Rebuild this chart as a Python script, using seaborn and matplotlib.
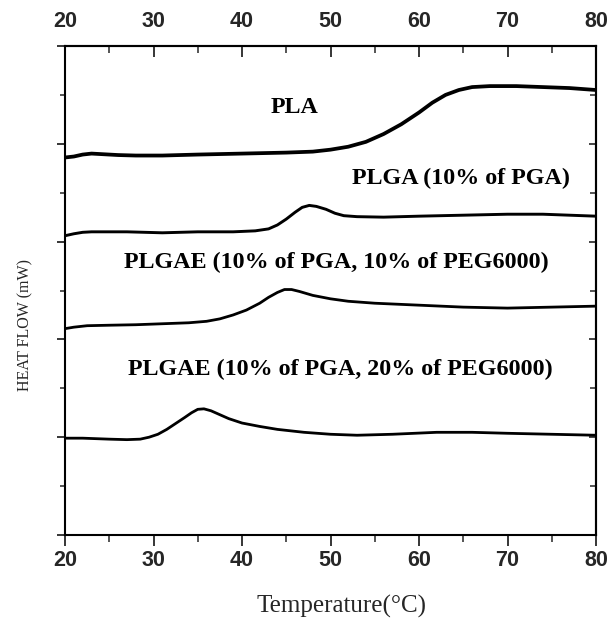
import matplotlib
matplotlib.use("Agg")
import matplotlib.pyplot as plt
from matplotlib import font_manager
from matplotlib.ticker import MultipleLocator
import numpy as np
import pandas as pd
import seaborn as sns

# ---- data ----
pla_x = [20, 21, 22, 23, 24, 26, 28, 31, 35, 40, 45, 48, 50, 52, 54, 56, 58, 60, 61.5, 63, 64.5, 66, 68,
         71, 74, 77, 80]
pla_y = [3.86, 3.87, 3.89, 3.90, 3.895, 3.885, 3.88, 3.88, 3.89, 3.90, 3.91, 3.92, 3.94, 3.97, 4.02, 4.10,
         4.20, 4.32, 4.42, 4.50, 4.55, 4.58, 4.59, 4.59, 4.58, 4.57, 4.55]

plga_x = [20, 21, 22, 23, 27, 31, 35, 39, 41.5, 43, 44, 45, 46, 46.8, 47.6, 48.4, 49.5, 50.5, 51.5, 53, 56,
          60, 65, 70, 74, 77, 80]
plga_y = [3.06, 3.08, 3.095, 3.10, 3.10, 3.09, 3.10, 3.10, 3.11, 3.13, 3.17, 3.23, 3.30, 3.35, 3.37, 3.36,
          3.33, 3.29, 3.265, 3.255, 3.25, 3.26, 3.27, 3.28, 3.28, 3.27, 3.26]

plgae10_x = [20, 21, 22.5, 25, 28, 31, 34, 36, 37.5, 39, 40.5, 42, 43, 44, 44.8, 45.6, 46.5, 48, 50, 52, 55,
             60, 65, 70, 75, 80]
plgae10_y = [2.11, 2.125, 2.14, 2.145, 2.15, 2.16, 2.17, 2.185, 2.21, 2.25, 2.30, 2.37, 2.43, 2.48, 2.51,
             2.51, 2.49, 2.45, 2.415, 2.39, 2.37, 2.35, 2.33, 2.32, 2.33, 2.34]

plgae20_x = [20, 22, 25, 27, 28.5, 29.5, 30.5, 31.5, 32.5, 33.5, 34.3, 35, 35.7, 36.5, 37.5, 38.5, 40, 42,
             44, 47, 50, 53, 57, 62, 66, 70, 75, 80]
plgae20_y = [0.99, 0.99, 0.98, 0.975, 0.98, 1.00, 1.03, 1.08, 1.14, 1.20, 1.25, 1.285, 1.29, 1.27, 1.23,
             1.19, 1.145, 1.11, 1.08, 1.05, 1.03, 1.02, 1.03, 1.05, 1.05, 1.04, 1.03, 1.02]

series_names = ["PLA", "PLGA (10% of PGA)", "PLGAE (10% of PGA, 10% of PEG6000)",
                "PLGAE (10% of PGA, 20% of PEG6000)"]
label_x = [45.9, 64.7, 50.7, 51.1]
label_y = [4.37, 3.65, 2.79, 1.69]

x_ticks = [20, 30, 40, 50, 60, 70, 80]

# ---- style ----
sns.set_style("ticks")
available = {f.name for f in font_manager.fontManager.ttflist}
tick_family = ["Liberation Sans Narrow"] if "Liberation Sans Narrow" in available else ["Liberation Sans"]
serif = ["Liberation Serif", "DejaVu Serif"]
plt.rcParams["font.family"] = serif

df = pd.concat([
    pd.DataFrame({"T": pla_x, "HF": pla_y, "s": series_names[0]}),
    pd.DataFrame({"T": plga_x, "HF": plga_y, "s": series_names[1]}),
    pd.DataFrame({"T": plgae10_x, "HF": plgae10_y, "s": series_names[2]}),
    pd.DataFrame({"T": plgae20_x, "HF": plgae20_y, "s": series_names[3]}),
], ignore_index=True)

fig = plt.figure(figsize=(6.08, 6.25), dpi=100)
ax = fig.add_axes([65 / 608, 90 / 625, 531 / 608, 489 / 625])

widths = [2.7, 2.1, 2.0, 2.0]
for name, lw in zip(series_names, widths):
    sns.lineplot(data=df[df["s"] == name], x="T", y="HF", ax=ax, color="black", lw=lw,
                 sort=False, estimator=None, legend=False)

for name, lx, ly in zip(series_names, label_x, label_y):
    ax.text(lx, ly, name, ha="center", va="center", fontsize=17.3, fontweight="bold",
            family=serif, color="black")

ax.set_xlim(20, 80)
ax.set_ylim(0, 5)
ax.set_xticks(x_ticks)
ax.xaxis.set_minor_locator(MultipleLocator(5))
ax.yaxis.set_major_locator(MultipleLocator(1))
ax.yaxis.set_minor_locator(MultipleLocator(0.5))

for sp in ax.spines.values():
    sp.set_visible(True)
    sp.set_linewidth(1.5)
    sp.set_color("black")

ax.tick_params(axis="x", which="major", direction="out", length=8, width=1.3, pad=3,
               top=False, bottom=True, labelbottom=True, labelsize=15.5)
ax.tick_params(axis="x", which="minor", direction="out", length=5, width=1.1, top=False, bottom=True)
ax.tick_params(axis="y", which="major", direction="out", length=6, width=1.3, labelleft=False,
               right=False)
ax.tick_params(axis="y", which="minor", direction="out", length=3.5, width=1.1, right=False)

# inward ticks on top and right, with labels on top
top = ax.secondary_xaxis("top")
top.set_xticks(x_ticks)
top.xaxis.set_minor_locator(MultipleLocator(5))
top.tick_params(which="major", direction="in", length=8, width=1.3, pad=10, labelsize=15.5)
top.tick_params(which="minor", direction="in", length=5, width=1.1)
top.spines["top"].set_linewidth(1.5)
right = ax.secondary_yaxis("right")
right.yaxis.set_major_locator(MultipleLocator(1))
right.yaxis.set_minor_locator(MultipleLocator(0.5))
right.tick_params(which="major", direction="in", length=5, width=1.2, labelright=False)
right.tick_params(which="minor", direction="in", length=4, width=1.1, labelright=False)
right.spines["right"].set_linewidth(1.5)

for lab in ax.get_xticklabels() + top.get_xticklabels():
    lab.set_family(tick_family)
    lab.set_fontweight("bold")

ax.set_xlabel("Temperature(°C)", fontsize=18, family=serif)
ax.xaxis.set_label_coords(0.52, -0.122)
ax.set_ylabel("HEAT FLOW (mW)", fontsize=11.5, family=serif)
ax.yaxis.set_label_coords(-0.060, 0.43)

fig.savefig("out.png", dpi=100)
